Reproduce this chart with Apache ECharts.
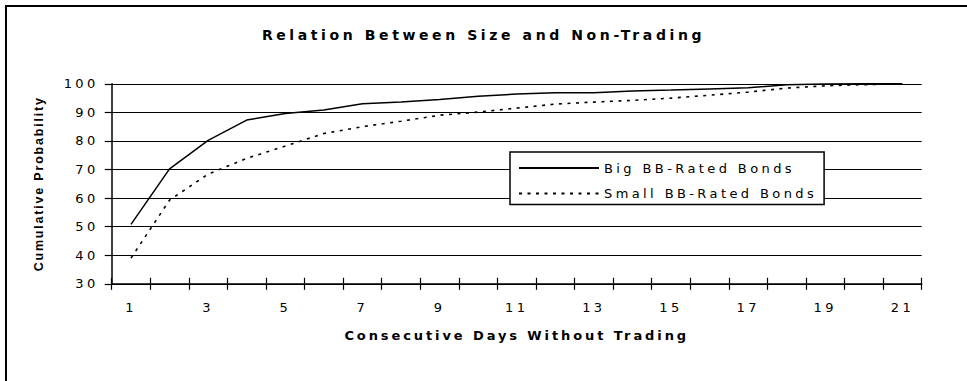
<!DOCTYPE html>
<html>
<head>
<meta charset="utf-8">
<script src="https://cdn.jsdelivr.net/npm/echarts@6/dist/echarts.min.js"></script>
<style>
  html, body { margin: 0; padding: 0; background: #fff; }
  #chart { width: 967px; height: 381px; }
  #chart text { letter-spacing: 3.4px; }
  #chart text[style*="bold"][style*="13px"] { letter-spacing: 2.9px; }
  #chart text[style*="14px"] { letter-spacing: 3.6px; }
  #chart text[style*="12.5px"] { letter-spacing: 1.8px; }
</style>
</head>
<body>
<div id="chart"></div>
<script>
const titleText = 'Relation Between Size and Non-Trading';
const xAxisTitle = 'Consecutive Days Without Trading';
const yAxisTitle = 'Cumulative Probability';
const days = ['1','2','3','4','5','6','7','8','9','10','11','12','13','14','15','16','17','18','19','20','21'];
const bigName = 'Big BB-Rated Bonds';
const smallName = 'Small BB-Rated Bonds';
const bigValues = [50.8, 70.2, 80.2, 87.3, 89.6, 90.8, 93.0, 93.6, 94.5, 95.6, 96.4, 96.9, 96.9, 97.5, 97.8, 98.2, 98.6, 99.7, 99.9, 100, 100];
const smallValues = [39.0, 59.3, 68.4, 73.9, 78.2, 82.6, 85.0, 86.9, 89.0, 90.1, 91.5, 92.9, 93.6, 94.2, 95.0, 96.0, 97.1, 98.5, 99.3, 99.7, 100];
const yMin = 30, yMax = 100, yStep = 10;

const FONT = 'DejaVu Sans';
const FONT_Y = 'Liberation Sans';
const chart = echarts.init(document.getElementById('chart'), null, { renderer: 'svg' });

const option = {
  backgroundColor: '#ffffff',
  animation: false,
  textStyle: { fontFamily: FONT, color: '#000' },
  title: {
    text: titleText,
    left: 'center',
    top: 23,
    textStyle: { fontFamily: FONT, fontSize: 14, fontWeight: 'bold', color: '#000' }
  },
  graphic: [{
    type: 'rect',
    shape: { x: 6, y: 6, width: 1100, height: 500 },
    style: { fill: 'none', stroke: '#000', lineWidth: 2 },
    silent: true,
    z: 100
  }],
  legend: {
    orient: 'vertical',
    left: 510,
    top: 152,
    padding: [9.5, 75, 4.5, 8],
    itemWidth: 80,
    itemHeight: 14,
    itemGap: 12.5,
    borderColor: '#000',
    borderWidth: 1.5,
    backgroundColor: '#fff',
    itemStyle: { opacity: 0 },
    textStyle: { fontFamily: FONT, fontSize: 13, color: '#000' },
    data: [bigName, smallName]
  },
  grid: { left: 111.7, right: 45.3, top: 83.8, bottom: 97.2, containLabel: false },
  xAxis: [{
    type: 'category',
    data: days,
    boundaryGap: true,
    position: 'bottom',
    name: xAxisTitle,
    nameLocation: 'middle',
    nameGap: 45,
    nameTextStyle: { fontFamily: FONT, fontSize: 13, fontWeight: 'bold', color: '#000' },
    axisLine: { show: true, lineStyle: { color: '#000', width: 1.5 } },
    axisTick: { show: true, inside: false, length: 6, interval: 0, alignWithLabel: false, lineStyle: { color: '#000', width: 1.2 } },
    axisLabel: { interval: 1, margin: 17, fontFamily: FONT, fontSize: 13, color: '#000' },
    splitLine: { show: false }
  }, {
    type: 'category',
    data: days,
    boundaryGap: true,
    position: 'bottom',
    offset: 0,
    axisLine: { show: false },
    axisTick: { show: true, inside: true, length: 6, interval: 0, lineStyle: { color: '#000', width: 1.2 } },
    axisLabel: { show: false },
    splitLine: { show: false }
  }],
  yAxis: {
    type: 'value',
    min: yMin,
    max: yMax,
    interval: yStep,
    name: yAxisTitle,
    nameLocation: 'middle',
    nameGap: 66,
    nameRotate: 90,
    nameTextStyle: { fontFamily: FONT_Y, fontSize: 12.5, fontWeight: 'bold', color: '#000' },
    axisLine: { show: true, lineStyle: { color: '#000', width: 1.5 } },
    axisTick: { show: true, inside: false, length: 7, lineStyle: { color: '#000', width: 1.2 } },
    axisLabel: { margin: 13, fontFamily: FONT, fontSize: 13, color: '#000' },
    splitLine: { show: true, lineStyle: { color: '#000', width: 1.2 } }
  },
  series: [{
    name: bigName,
    type: 'line',
    xAxisIndex: 0,
    data: bigValues,
    symbol: 'none',
    showSymbol: false,
    lineStyle: { color: '#000', width: 1.5, type: 'solid' },
    itemStyle: { color: '#000' },
    z: 5
  }, {
    name: smallName,
    type: 'line',
    xAxisIndex: 0,
    data: smallValues,
    symbol: 'none',
    showSymbol: false,
    lineStyle: { color: '#000', width: 1.6, type: [3, 5.5] },
    itemStyle: { color: '#000' },
    z: 4
  }]
};
chart.setOption(option);
</script>
</body>
</html>
